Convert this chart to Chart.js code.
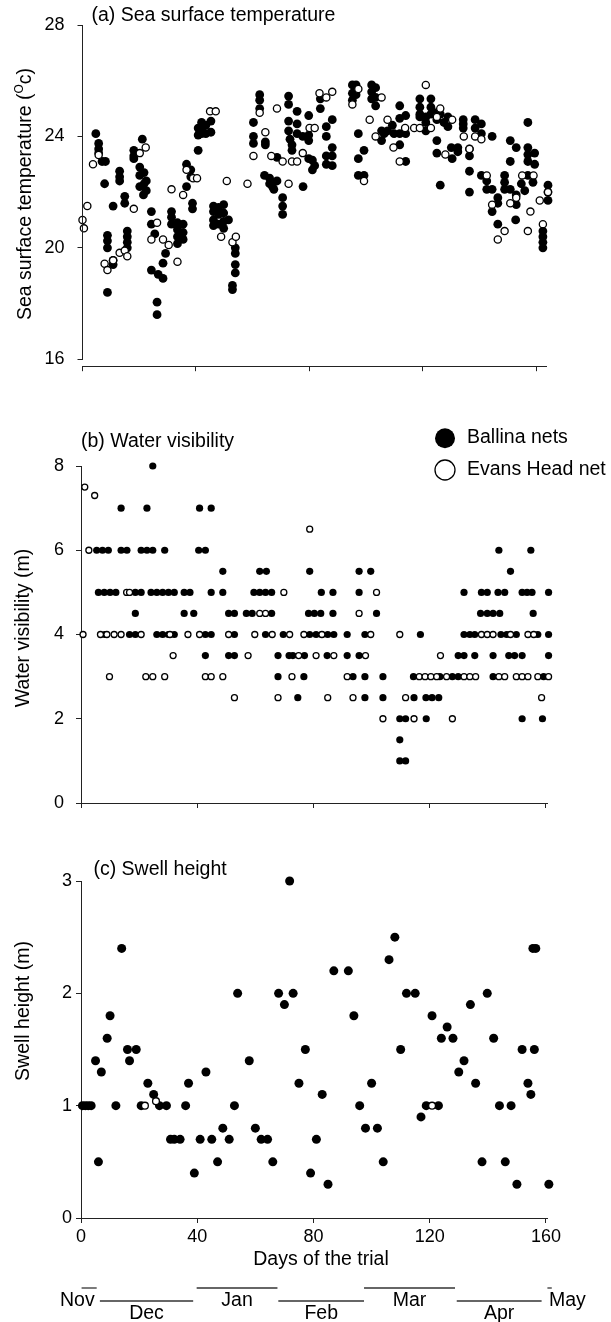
<!DOCTYPE html>
<html>
<head>
<meta charset="utf-8">
<script src="https://cdn.jsdelivr.net/npm/chart.js@4.4.1/dist/chart.umd.min.js"></script>
<style>
  html, body { margin: 0; padding: 0; background: #fff; }
  #page { position: relative; width: 611px; height: 1322px; overflow: hidden; background: #fff; }
  canvas { position: absolute; left: 0; }
</style>
</head>
<body>
<div id="page">
  <canvas id="sst" width="611" height="390" style="top:0px;width:611px;height:390px"></canvas>
  <canvas id="vis" width="611" height="450" style="top:390px;width:611px;height:450px"></canvas>
  <canvas id="swell" width="611" height="482" style="top:840px;width:611px;height:482px"></canvas>
</div>
<script>
// ---- data: [day of trial, value] ----
const dayTicks = [0, 40, 80, 120, 160];
const sstTicks = [16, 20, 24, 28];
const visTicks = [0, 2, 4, 6, 8];
const swellTicks = [0, 1, 2, 3];

const ballinaSst = [
  [4.7,24.1],[5.7,23.75],[5.7,23.55],[5.7,23.4],[6.9,23.1],[8.1,23.1],[7.8,22.3],
  [8.8,20.45],[8.8,20.25],[8.8,20.0],[8.8,18.4],[10.8,19.55],[10.8,19.4],[10.8,21.5],
  [13.1,22.75],[13.1,22.55],[13.1,22.4],[14.9,21.85],[14.9,21.6],
  [15.8,20.6],[15.8,20.4],[15.8,20.2],[15.8,20.0],[18.1,23.5],[18.1,23.3],[18.1,23.2],
  [20.2,22.9],[20.2,22.6],[20.2,22.2],[21.1,23.9],[21.7,22.7],[21.7,22.3],[22.5,22.4],[22.5,22.05],[21.5,21.9],
  [24.3,21.3],[24.3,20.85],[25.5,20.5],[24.3,19.2],[26.7,19.05],[28.4,18.9],
  [26.3,18.05],[26.3,17.6],[28.4,19.45],[29.3,19.8],
  [31.4,21.3],[31.4,21.1],[31.4,20.85],[33.5,20.9],[33.5,20.65],[33.5,20.4],[33.5,20.15],
  [35.5,20.85],[35.5,20.55],[35.5,20.3],[36.7,22.2],[36.7,23.0],[38.2,22.8],[38.2,22.55],
  [38.8,21.6],[38.8,21.4],[40.8,24.3],[40.8,24.05],[40.8,23.5],[42,24.5],[42,24.25],[42,24.1],
  [43.5,24.4],[43.5,24.1],[45.3,24.55],[45.3,24.15],
  [46.2,21.5],[46.2,21.3],[46.2,21.0],[46.2,20.8],[48,21.45],[48,21.2],[48,20.85],
  [49.8,21.55],[49.8,21.25],[49.8,20.95],[49.8,20.7],[51.5,21.0],
  [53.9,20.0],[53.9,19.8],[53.9,19.4],[53.9,19.1],[52.9,18.65],[52.9,18.5],
  [60.3,24.5],[60.3,24.0],[60.3,23.75],[62.5,25.5],[62.5,25.3],[62.5,25.0],
  [64.5,23.8],[64.5,23.7],[64.2,22.6],[66,22.5],[66,22.3],[67.5,22.1],[68.6,22.4],[67,22.2],[68.6,23.25],
  [70.6,21.8],[70.6,21.5],[70.6,21.2],
  [72.7,25.45],[72.7,25.15],[72.7,24.55],[72.7,24.2],[73.2,23.9],[73.9,23.7],[73.9,23.5],
  [75.7,24.9],[75.7,24.45],[75.7,24.1],[77.7,24.0],[77.8,22.2],
  [79.8,24.75],[79.8,24.05],[79.8,23.85],[79.8,23.2],[81.9,22.95],[81.1,23.15],[81.1,22.8],
  [83.9,25.35],[83.9,25.0],[86,24.35],[86,24.0],[86,23.3],[86,23.0],
  [88.1,24.6],[88.1,23.6],[88.1,23.3],[88.1,22.95],
  [95.2,25.85],[95.2,25.55],[95.2,25.3],[96.5,25.85],[96.5,25.5],
  [97.3,24.1],[97.3,23.2],[97.3,22.6],[99.3,23.5],[99.3,22.6],
  [102,25.85],[102,25.6],[102,25.35],[103.4,25.75],[103.4,25.4],[103.4,25.1],
  [105.5,24.2],[105.5,23.85],[106.4,24.1],[107.6,24.2],[109.3,24.4],[109.9,24.1],
  [111.9,25.1],[111.9,24.65],[111.9,24.1],[111.9,23.7],[114,24.75],[114,24.1],[114,23.1],
  [119,25.35],[119,25.05],[119,24.8],[119,24.7],[121.1,24.7],[121.1,24.5],[121.1,24.2],
  [122.9,25.35],[122.9,25.05],[122.9,24.8],
  [124.8,24.85],[125,24.6],[126.2,24.8],[127.5,24.5],[128.9,24.7],[128.9,24.35],
  [125,23.85],[125,23.4],[126.2,22.25],[130.4,23.2],[130.1,23.6],[132.4,23.45],[132.4,23.6],
  [134.3,24.6],[134.3,24.45],[134.3,24.3],[136.5,23.55],[136.5,23.3],[136.5,22.75],[136.5,22.0],
  [138.5,24.6],[138.5,24.3],[140.7,24.45],[140.7,24.1],[140.7,22.6],
  [142.6,22.4],[142.6,22.1],[144.5,22.1],[144.5,21.3],[146.5,21.8],[146.5,21.6],[144.5,24.0],[146.5,20.85],
  [148.9,22.6],[148.9,22.35],[148.9,22.1],[150.9,23.85],[150.9,23.1],[150.9,22.1],
  [153,23.6],[153,21.9],[153,21.55],[152.8,21.0],
  [157.1,24.5],[157.1,23.6],[157.1,23.35],[157.1,23.1],[157.1,22.6],[154.8,22.3],[156,22.05],
  [159.5,23.4],[159.5,23.0],[158.9,22.35],
  [162.4,20.6],[162.4,20.4],[162.4,20.2],[162.4,20.0],[164.2,22.25],[164.2,22.0],[164.2,21.7]
];
const evansSst = [
  [0,21.0],[0.5,20.7],[1.7,21.5],[3.7,23.0],[5.7,23.33],[7.8,19.43],[8.8,19.2],[10.8,19.55],
  [13.1,19.82],[14.9,19.9],[15.8,19.7],[18.1,21.4],[20.2,23.4],[22.3,23.6],[24.3,20.3],
  [26.3,20.9],[28.4,20.3],[30.4,20.1],[31.4,22.1],[33.5,19.5],[35.5,21.9],[36.7,22.8],
  [39,22.5],[40.4,22.5],[45,24.9],[47,24.9],[48.9,20.4],[50.9,22.4],[52.9,20.2],[54.1,20.4],
  [58.2,22.3],[60.3,23.3],[62.5,24.85],[64.5,24.15],[66.6,23.3],[68.6,25.0],[70.6,23.1],
  [72.7,22.3],[73.9,23.1],[75.7,23.1],[77.7,23.4],[80.1,24.3],[81.9,24.3],[83.6,25.55],
  [86,25.4],[88.1,25.6],[95.2,25.15],[97.3,25.7],[99.3,22.4],[101.3,24.6],[103.4,24.0],
  [105.5,25.4],[107.6,24.6],[109.7,23.6],[111.9,23.1],[113.8,24.3],[117,24.3],[119,24.3],
  [121.1,25.85],[122.9,24.3],[125,24.7],[126.2,25.0],[128,23.35],[130.4,24.6],[134.5,24.0],
  [136.5,23.55],[138.5,24.0],[140.7,23.9],[142.6,22.6],[144.5,21.55],[146.5,20.3],[148.9,20.6],
  [150.9,21.6],[153,21.8],[155.1,22.6],[157.1,20.6],[158,21.3],[159.1,22.6],[161.3,21.7],
  [162.4,20.85],[164.2,22.0]
];

const ballinaVis = [
  [24.7,8],[13.8,7],[22.7,7],[40.8,7],[44.8,7],
  [5.4,6],[7.4,6],[9.4,6],[13.8,6],[15.8,6],[20.7,6],[22.7,6],[24.7,6],[28.8,6],[40.5,6],[42.8,6],[143.8,6],[154.8,6],
  [48.8,5.5],[61.5,5.5],[63.8,5.5],[78.7,5.5],[95.7,5.5],[99.7,5.5],[147.8,5.5],
  [6,5],[8,5],[10,5],[12,5],[18.7,5],[20.7,5],[24.1,5],[26.1,5],[28.1,5],[30.1,5],[32.1,5],[35.5,5],[37.5,5],
  [44.8,5],[48.8,5],[59.5,5],[61.5,5],[63.5,5],[65.6,5],[82.7,5],[86.7,5],[95.7,5],[131.8,5],[137.8,5],
  [139.8,5],[143.5,5],[145.8,5],[151.8,5],[153.5,5],[155.2,5],[160.9,5],
  [18.7,4.5],[35.5,4.5],[38.8,4.5],[50.8,4.5],[52.8,4.5],[56.9,4.5],[58.9,4.5],[65.6,4.5],[78.3,4.5],
  [80.3,4.5],[82.5,4.5],[86.7,4.5],[101.7,4.5],[137.5,4.5],[139.8,4.5],[141.8,4.5],[144.1,4.5],[155.6,4.5],
  [8.2,4],[16.7,4],[18.7,4],[26.1,4],[28.1,4],[30.1,4],[32.1,4],[42.8,4],[44.8,4],[52.8,4],[63.5,4],[69.6,4],
  [78.7,4],[80.9,4],[82.9,4],[84.9,4],[87,4],[91.6,4],[97.7,4],[116.8,4],[131.8,4],[133.8,4],[135.5,4],
  [144.5,4],[146.5,4],[149.8,4],[157.2,4],[160.9,4],
  [42.8,3.5],[50.8,3.5],[52.8,3.5],[67.8,3.5],[71.6,3.5],[72.9,3.5],[76.9,3.5],[84.7,3.5],[91.6,3.5],
  [95.7,3.5],[129.8,3.5],[131.8,3.5],[135.5,3.5],[141.8,3.5],[147.2,3.5],[149.2,3.5],[151.8,3.5],[160.9,3.5],
  [67.8,3],[76.7,3],[93.6,3],[97.7,3],[103.9,3],[114.4,3],[123.5,3],[127.8,3],[129.8,3],[141.8,3],[159.2,3],
  [74.6,2.5],[97.7,2.5],[103.9,2.5],[114.6,2.5],[118.7,2.5],[120.8,2.5],[123.1,2.5],
  [109.7,2],[111.7,2],[118.8,2],[151.8,2],[158.8,2],
  [109.7,1.5],[109.7,1],[111.7,1]
];
const evansVis = [
  [1.3,7.5],[4.7,7.3],[2.7,6],[78.7,6.5],
  [15.7,5],[16.7,5],[69.8,5],[101.7,5],
  [61.5,4.5],[63.5,4.5],[95.7,4.5],
  [0.7,4],[6.7,4],[8.9,4],[11.4,4],[13.8,4],[20.7,4],[30.6,4],[36.8,4],[40.8,4],[50.8,4],[59.8,4],[65.8,4],
  [71.8,4],[76.7,4],[82.9,4],[99.7,4],[109.7,4],[137.8,4],[139.8,4],[141.8,4],[147.8,4],[153.8,4],[155.8,4],
  [31.7,3.5],[57.5,3.5],[74.9,3.5],[80.9,3.5],[87,3.5],[97.9,3.5],[123.7,3.5],
  [9.8,3],[22.3,3],[24.7,3],[28.8,3],[42.8,3],[44.8,3],[48.8,3],[72.6,3],[91.6,3],[116.4,3],[118.4,3],
  [120.4,3],[122.4,3],[125.8,3],[131.8,3],[133.8,3],[135.8,3],[143.8,3],[145.8,3],[149.8,3],[151.8,3],
  [153.8,3],[157.2,3],[160.9,3],
  [52.8,2.5],[67.8,2.5],[84.9,2.5],[93.6,2.5],[111.7,2.5],[158.5,2.5],
  [103.9,2],[114.6,2],[127.8,2]
];

const ballinaSwell = [
  [0.5,1],[1.5,1],[2.5,1],[3.5,1],[5,1.4],[6,0.5],[7,1.3],[9,1.6],[10,1.8],[12,1],[14,2.4],[16,1.5],
  [16.7,1.4],[19,1.5],[20.7,1],[23,1.2],[25,1.1],[27,1],[29.4,1],[30.8,0.7],[32.1,0.7],[34.1,0.7],
  [36,1],[37,1.2],[39,0.4],[41,0.7],[43,1.3],[45,0.7],[47,0.5],[48.8,0.8],[51,0.7],[52.8,1],[53.9,2],
  [57.9,1.4],[60,0.8],[62,0.7],[64.2,0.7],[66,0.5],[68,2],[70,1.9],[71.8,3],[73,2],[75,1.2],[77.2,1.5],
  [79,0.4],[81,0.7],[83,1.1],[85,0.3],[87,2.2],[92,2.2],[93.9,1.8],[95.9,1],[97.9,0.8],[100,1.2],
  [102,0.8],[104,0.5],[106,2.3],[108,2.5],[110,1.5],[112,2],[115,2],[117,0.9],[118.8,1],[120.8,1.8],
  [123,1],[124,1.6],[126,1.7],[128,1.6],[130,1.3],[131.8,1.4],[134,1.9],[135.8,1.2],[138,0.5],
  [139.8,2],[142,1.6],[144,1],[146,0.5],[148,1],[150,0.3],[151.8,1.5],[153.8,1.2],[155.5,2.4],
  [154.8,1.1],[156.5,2.4],[156,1.5],[161,0.3]
];
const evansSwell = [[22,1],[25.8,1.04],[120.8,1]];

const monthNames = ['Nov', 'Dec', 'Jan', 'Feb', 'Mar', 'Apr', 'May'];
const monthStart = [0.2, 6.5, 39.8, 67.9, 97.4, 129.3, 160.5];
const monthEnd = [5.4, 38.6, 67.6, 97.4, 128.7, 158.5, 162];
const monthRow = [0, 1, 0, 1, 0, 1, 0]; // 0 = upper line, 1 = lower line

// ---- drawing ----
const FONT = '"Liberation Sans", Arial, sans-serif';
const AXIS = '#222';

function pts(arr) {
  return arr.map(([x, y]) => ({ x, y }));
}

function label(ctx, str, x, y, align, size) {
  ctx.save();
  ctx.font = size + 'px ' + FONT;
  ctx.fillStyle = '#000';
  ctx.textAlign = align;
  ctx.textBaseline = 'middle';
  ctx.fillText(str, x, y);
  ctx.restore();
}

// vertical axis title, parts = [text, size, rise]
function vlabel(ctx, parts, cx, cy) {
  ctx.save();
  ctx.translate(cx, cy);
  ctx.rotate(-Math.PI / 2);
  ctx.fillStyle = '#000';
  ctx.textBaseline = 'middle';
  ctx.textAlign = 'left';
  let total = 0;
  parts.forEach(p => { ctx.font = p[1] + 'px ' + FONT; total += ctx.measureText(p[0]).width; });
  let x = -total / 2;
  parts.forEach(p => {
    ctx.font = p[1] + 'px ' + FONT;
    ctx.fillText(p[0], x, p[2]);
    x += ctx.measureText(p[0]).width;
  });
  ctx.restore();
}

function sets(filled, open, rFilled, rOpen) {
  return [
    { data: pts(open), backgroundColor: '#fff', borderColor: '#000', borderWidth: 1.3,
      pointRadius: rOpen, pointHoverRadius: rOpen, clip: false, order: 0 },
    { data: pts(filled), backgroundColor: '#000', borderColor: '#000', borderWidth: 0,
      pointRadius: rFilled, pointHoverRadius: rFilled, clip: false, order: 1 }
  ];
}

function makeOptions(cfg) {
  return {
    responsive: false,
    animation: false,
    events: [],
    layout: { padding: { top: cfg.top, right: cfg.right, bottom: 0, left: 0 } },
    plugins: { legend: { display: false }, tooltip: { enabled: false } },
    scales: {
      x: {
        type: 'linear', min: 0, max: cfg.xMax,
        afterBuildTicks: s => { s.ticks = dayTicks.map(v => ({ value: v })); },
        afterFit: s => { s.height = cfg.xHeight; },
        grid: { drawOnChartArea: false, drawTicks: true, tickLength: 5, color: AXIS, lineWidth: 1 },
        border: { display: true, color: AXIS, width: 1 },
        ticks: { display: cfg.xLabels, color: '#000', font: { family: FONT, size: 18 }, padding: 3, maxRotation: 0 }
      },
      y: {
        type: 'linear', min: cfg.yMin, max: cfg.yMax,
        afterBuildTicks: s => { s.ticks = cfg.yTicks.map(v => ({ value: v })); },
        afterFit: s => { s.width = cfg.left; },
        grid: { drawOnChartArea: false, drawTicks: true, tickLength: 5, color: AXIS, lineWidth: 1 },
        border: { display: cfg.yBorder, color: AXIS, width: 1 },
        ticks: { color: '#000', font: { family: FONT, size: 18 }, padding: cfg.yPad }
      }
    }
  };
}

// (a) sea surface temperature
new Chart(document.getElementById('sst'), {
  type: 'scatter',
  data: { datasets: sets(ballinaSst, evansSst, 4.4, 3.6) },
  options: makeOptions({ top: 25, right: 65, xMax: 163.5, xHeight: 19.7, xLabels: false,
    yMin: 15.75, yMax: 28, yTicks: sstTicks, left: 82.5, yPad: 13, yBorder: false }),
  plugins: [{
    id: 'sstText',
    afterDraw(chart) {
      const ctx = chart.ctx, ys = chart.scales.y, left = chart.chartArea.left;
      ctx.save();
      ctx.strokeStyle = AXIS;
      ctx.lineWidth = 1;
      ctx.beginPath();
      ctx.moveTo(left, ys.getPixelForValue(sstTicks[0]));
      ctx.lineTo(left, ys.getPixelForValue(sstTicks[sstTicks.length - 1]));
      ctx.stroke();
      ctx.restore();
      label(ctx, '(a) Sea surface temperature', 91.5, 16, 'left', 19.5);
      vlabel(ctx, [['Sea surface temperature (', 19.5, 0], ['O', 12, -6], ['c)', 19.5, 0]], 26, 194);
    }
  }]
});

// (b) water visibility
new Chart(document.getElementById('vis'), {
  type: 'scatter',
  data: { datasets: sets(ballinaVis, evansVis, 3.6, 3) },
  options: makeOptions({ top: 76, right: 63.3, xMax: 160.6, xHeight: 37, xLabels: false,
    yMin: 0, yMax: 8, yTicks: visTicks, left: 81, yPad: 12, yBorder: true }),
  plugins: [{
    id: 'visText',
    afterDraw(chart) {
      const ctx = chart.ctx;
      label(ctx, '(b) Water visibility', 81, 51.7, 'left', 19.5);
      vlabel(ctx, [['Water visibility (m)', 19.5, 0]], 24, 238);
      ctx.save();
      ctx.fillStyle = '#000';
      ctx.beginPath();
      ctx.arc(445, 48.3, 10, 0, Math.PI * 2);
      ctx.fill();
      ctx.fillStyle = '#fff';
      ctx.strokeStyle = '#000';
      ctx.lineWidth = 1.3;
      ctx.beginPath();
      ctx.arc(445, 80, 10, 0, Math.PI * 2);
      ctx.fill();
      ctx.stroke();
      ctx.restore();
      label(ctx, 'Ballina nets', 467, 48, 'left', 19.5);
      label(ctx, 'Evans Head net', 467, 80, 'left', 19.5);
    }
  }]
});

// (c) swell height + month bar
new Chart(document.getElementById('swell'), {
  type: 'scatter',
  data: { datasets: sets(ballinaSwell, evansSwell, 4.5, 3.4) },
  options: makeOptions({ top: 41, right: 63.3, xMax: 160.6, xHeight: 104, xLabels: true,
    yMin: 0, yMax: 3, yTicks: swellTicks, left: 81, yPad: 4, yBorder: true }),
  plugins: [{
    id: 'swellText',
    afterDraw(chart) {
      const ctx = chart.ctx, xs = chart.scales.x;
      label(ctx, '(c) Swell height', 93.4, 29.3, 'left', 19.5);
      vlabel(ctx, [['Swell height (m)', 19.5, 0]], 24, 171);
      label(ctx, 'Days of the trial', 321, 420, 'center', 19.5);
      const lineY = [448, 461], textY = [461, 474];
      ctx.save();
      ctx.strokeStyle = '#333';
      ctx.lineWidth = 1.3;
      monthNames.forEach((m, i) => {
        const x0 = xs.getPixelForValue(monthStart[i]);
        const x1 = xs.getPixelForValue(monthEnd[i]);
        const r = monthRow[i];
        ctx.beginPath();
        ctx.moveTo(x0, lineY[r]);
        ctx.lineTo(x1, lineY[r]);
        ctx.stroke();
        if (i === 0) label(ctx, m, x1 - 2, textY[r], 'right', 19.5);
        else if (i === monthNames.length - 1) label(ctx, m, x0 + 1.5, textY[r], 'left', 19.5);
        else label(ctx, m, (x0 + x1) / 2, textY[r], 'center', 19.5);
      });
      ctx.restore();
    }
  }]
});
</script>
</body>
</html>
